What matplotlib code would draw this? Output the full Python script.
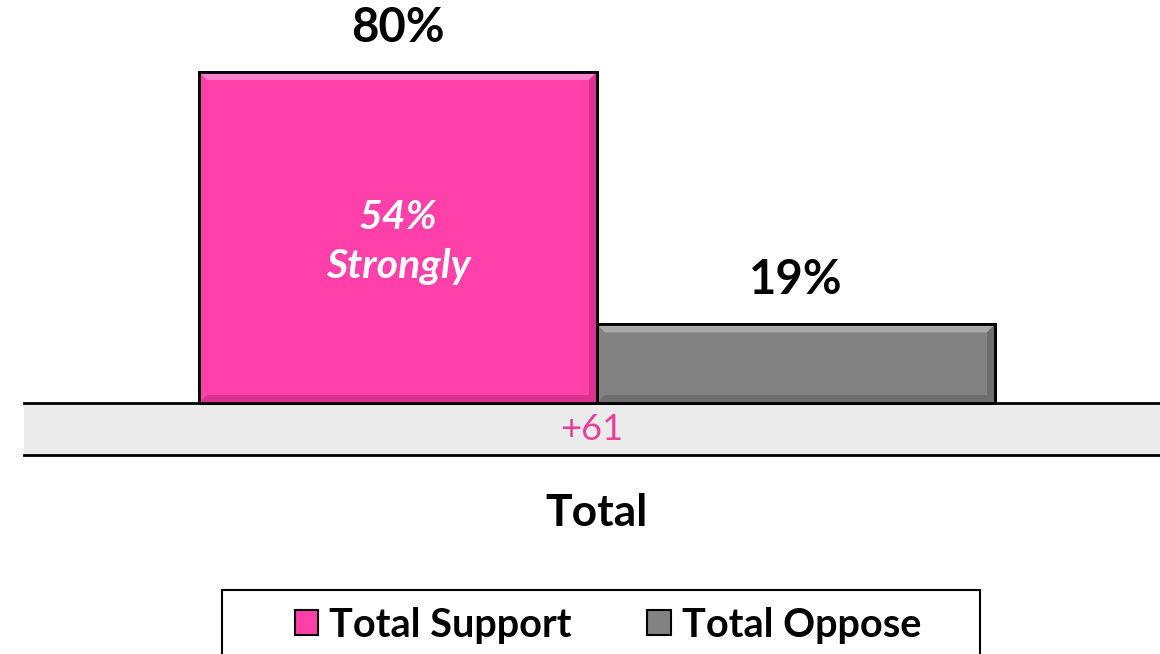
import matplotlib
matplotlib.use("Agg")
import matplotlib.pyplot as plt
from matplotlib.patches import Patch, Rectangle, Polygon

# ---- data ----
categories = ["Total"]
series_names = ["Total Support", "Total Oppose"]
support = [80]
oppose = [19]
strongly_support = [54]
colors = ["#FF3FAA", "#828282"]
light_colors = ["#FF7FCB", "#A9A9A9"]
dark_colors = ["#D9338F", "#6E6E6E"]
net_color = "#E8409C"

plt.rcParams['font.family'] = ['Lato', 'DejaVu Sans']

W, H = 1160, 654
fig = plt.figure(figsize=(W / 100, H / 100), dpi=100)
ax = fig.add_axes([0, 0, 1, 1])
ax.set_axis_off()

# layout (pixel geometry of reference)
base_px = 403          # baseline from top
px_per_unit = 4.1375   # pixels per percentage point
group_center_px = 597
bar_w = 0.4
unit_px = 995          # pixels per x unit

ax.set_xlim(-group_center_px / unit_px, (W - group_center_px) / unit_px)
ax.set_ylim(-(H - base_px) / px_per_unit, base_px / px_per_unit)

def py(px_from_top):
    return (base_px - px_from_top) / px_per_unit

x = list(range(len(categories)))
b1 = ax.bar([i - bar_w / 2 for i in x], support, width=bar_w, color=colors[0],
            edgecolor="black", linewidth=2, zorder=3)
b2 = ax.bar([i + bar_w / 2 for i in x], oppose, width=bar_w, color=colors[1],
            edgecolor="black", linewidth=2, zorder=3)

# bevel effect built from each bar's geometry
bev_x = 8 / unit_px
bev_y = 8 / px_per_unit
for bars, k in ((b1, 0), (b2, 1)):
    for r in bars:
        x0, x1 = r.get_x(), r.get_x() + r.get_width()
        y0, y1 = 0, r.get_height()
        top = [(x0, y1), (x1, y1), (x1 - bev_x, y1 - bev_y), (x0 + bev_x, y1 - bev_y)]
        bot = [(x0, y0), (x1, y0), (x1 - bev_x, y0 + bev_y), (x0 + bev_x, y0 + bev_y)]
        rgt = [(x1, y0), (x1, y1), (x1 - bev_x, y1 - bev_y), (x1 - bev_x, y0 + bev_y)]
        ax.add_patch(Polygon(top, closed=True, color=light_colors[k], lw=0, zorder=3.5))
        ax.add_patch(Polygon(bot, closed=True, color=dark_colors[k], lw=0, zorder=3.5))
        ax.add_patch(Polygon(rgt, closed=True, color=dark_colors[k], lw=0, zorder=3.5))
        ax.add_patch(Rectangle((x0, y0), x1 - x0, y1 - y0, fill=False,
                               edgecolor="black", lw=2, zorder=3.6))

# value labels
for bars, vals in ((b1, support), (b2, oppose)):
    for r, v in zip(bars, vals):
        ax.annotate(f"{v}%", (r.get_x() + r.get_width() / 2, r.get_height()),
                    xytext=(0, 32), textcoords="offset points", ha="center",
                    va="center", fontsize=34, fontweight="bold", color="black",
                    zorder=5)

# strongly label inside support bar
for r, v in zip(b1, strongly_support):
    cx = r.get_x() + r.get_width() / 2
    ax.text(cx, py(217.5), f"{v}%", ha="center", va="center", fontsize=29.5,
            fontweight="bold", style="italic", color="white", zorder=5)
    ax.text(cx, py(278), "Strongly", ha="center", va="baseline", fontsize=29.5,
            fontweight="bold", style="italic", color="white", zorder=5)

# net band (table row)
band_left = 24 / W
ax.axhspan(py(455), py(403), xmin=band_left, xmax=1, color="#EBEBEB", zorder=1)
ax.axhline(py(403), xmin=band_left, xmax=1, color="black", lw=2, zorder=2)
ax.axhline(py(455), xmin=band_left, xmax=1, color="black", lw=2, zorder=2)
for i in x:
    net = support[i] - oppose[i]
    ax.text(i - 0.005, py(430), f"+{net}" if net > 0 else f"{net}",
            ha="center", va="center", fontsize=26, color=net_color, zorder=5)
    ax.text(i, py(513), categories[i], ha="center", va="center",
            fontsize=32, fontweight="bold", color="black")

# legend box
fig.patches.append(Rectangle((222 / W, -0.05), (980 - 222) / W, 0.05 + (H - 590) / H,
                             transform=fig.transFigure, fill=False,
                             edgecolor="black", lw=1.5, zorder=1))
handles = [Patch(facecolor=colors[0], edgecolor="black", linewidth=1.5),
           Patch(facecolor=colors[1], edgecolor="black", linewidth=1.5)]
leg = fig.legend(handles, series_names, loc="center",
                 bbox_to_anchor=(608 / W, 1 - 625 / H), ncol=2,
                 prop={'weight': 'bold', 'size': 28.5}, frameon=False,
                 handlelength=0.6, handleheight=0.6, handletextpad=0.28,
                 columnspacing=1.9, borderpad=0, borderaxespad=0)

fig.savefig("out.png", dpi=100)
